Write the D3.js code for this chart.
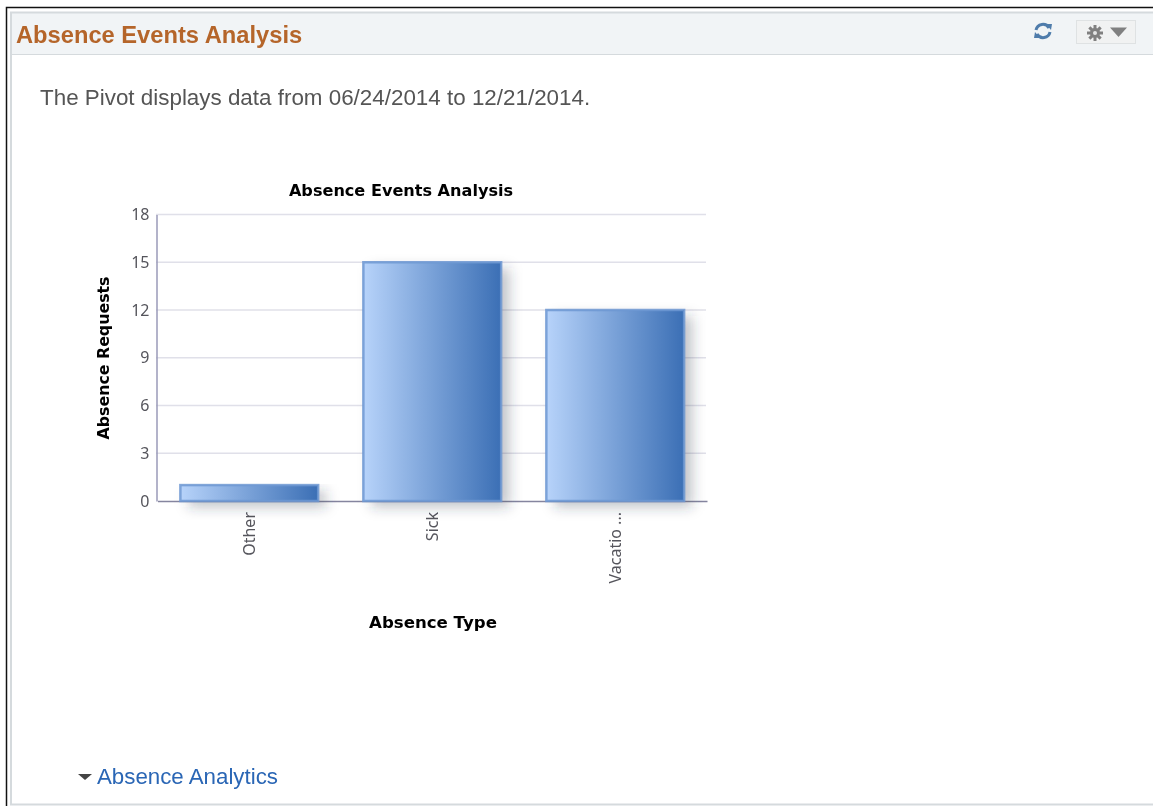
<!DOCTYPE html>
<html>
<head>
<meta charset="utf-8">
<script src="https://cdn.jsdelivr.net/npm/d3@7"></script>
<style>
  html, body { margin: 0; padding: 0; background: #fff; overflow: hidden; }
  svg { display: block; filter: blur(0.35px); }
</style>
</head>
<body>
<div id="chart"></div>
<script>
const categories = ['Other', 'Sick', 'Vacatio ...'];
const absenceRequests = [1, 15, 12];
const yTicks = [0, 3, 6, 9, 12, 15, 18];
const pageTitle = 'Absence Events Analysis';
const pivotNote = 'The Pivot displays data from 06/24/2014 to 12/21/2014.';
const chartTitle = 'Absence Events Analysis';
const yLabel = 'Absence Requests';
const xLabel = 'Absence Type';
const linkLabel = 'Absence Analytics';

const svg = d3.select('#chart').append('svg')
  .attr('width', 1153)
  .attr('height', 806);

const defs = svg.append('defs');

// bar fill, light on the left to dark on the right
const gradient = defs.append('linearGradient')
  .attr('id', 'barGradient')
  .attr('x1', '0%').attr('y1', '0%')
  .attr('x2', '100%').attr('y2', '0%');
gradient.append('stop').attr('offset', '0%').attr('stop-color', '#b7d3fa');
gradient.append('stop').attr('offset', '100%').attr('stop-color', '#3b6fb5');

const shadow = defs.append('filter')
  .attr('id', 'barShadow')
  .attr('x', '-20%').attr('y', '-40%')
  .attr('width', '140%').attr('height', '220%');
shadow.append('feGaussianBlur').attr('stdDeviation', 6.5);

// page frame
svg.append('path').attr('d', 'M1153,7.5H6.5V806').attr('fill', 'none').attr('stroke', '#111').attr('stroke-width', 1.5);
svg.append('rect').attr('x', 11).attr('y', 13).attr('width', 1142).attr('height', 41).attr('fill', '#f1f4f6');
svg.append('path').attr('d', 'M1153,12.5H11V804.5H1153').attr('fill', 'none').attr('stroke', '#d5dadd').attr('stroke-width', 2);
svg.append('line').attr('x1', 11).attr('x2', 1153).attr('y1', 54.5).attr('y2', 54.5).attr('stroke', '#d5dadd');

svg.append('text')
  .attr('x', 16).attr('y', 42.5)
  .attr('font-family', 'Liberation Sans')
  .attr('font-size', 23.7).attr('font-weight', 'bold')
  .attr('fill', '#b5652a')
  .text(pageTitle);

svg.append('text')
  .attr('x', 40).attr('y', 104.5)
  .attr('font-family', 'Liberation Sans')
  .attr('font-size', 22.4)
  .attr('fill', '#555')
  .text(pivotNote);

// refresh icon
const refresh = svg.append('g').attr('transform', 'translate(1043,31)').attr('fill', 'none').attr('stroke', '#4f7cab').attr('stroke-width', 3);
refresh.append('path').attr('d', 'M-7,-1A7,7 0 0 1 6,-3');
refresh.append('path').attr('d', 'M7,1A7,7 0 0 1 -6,3');
refresh.append('path').attr('d', 'M3,-7L9,-7L8,-1Z').attr('fill', '#4f7cab').attr('stroke', 'none');
refresh.append('path').attr('d', 'M-3,7L-9,7L-8,1Z').attr('fill', '#4f7cab').attr('stroke', 'none');

// settings button
svg.append('rect').attr('x', 1076.5).attr('y', 20.5).attr('width', 59).attr('height', 23).attr('fill', '#f1f2f2').attr('stroke', '#dfe2e3');
const gear = svg.append('g').attr('transform', 'translate(1095,33)');
gear.selectAll('line').data(d3.range(0, 180, 45)).enter().append('line')
  .attr('x1', -8).attr('x2', 8)
  .attr('transform', d => `rotate(${d})`)
  .attr('stroke', '#808080').attr('stroke-width', 3);
gear.append('circle').attr('r', 5).attr('fill', '#808080');
gear.append('circle').attr('r', 2).attr('fill', '#e4e5e5');
svg.append('path').attr('d', 'M1110,27.5H1127L1118.5,37Z').attr('fill', '#808080');

// chart
const x = d3.scaleBand().domain(categories).range([157.5, 707]).paddingInner(0.247).paddingOuter(0.125);
const y = d3.scaleLinear().domain([0, 18]).range([501, 214.5]);

svg.append('g')
  .selectAll('line')
  .data(yTicks.filter(d => d > 0))
  .enter().append('line')
  .attr('x1', 156).attr('x2', 706)
  .attr('y1', d => y(d)).attr('y2', d => y(d))
  .attr('stroke', '#e0e0e9').attr('stroke-width', 1.5);

const yAxis = svg.append('g')
  .attr('transform', 'translate(156.5,0)')
  .call(d3.axisLeft(y).tickValues(yTicks).tickSize(0).tickPadding(7));
yAxis.select('.domain').attr('stroke', '#9a9ab8').attr('stroke-width', 1.5);
yAxis.selectAll('text')
  .attr('font-family', 'Noto Sans')
  .attr('font-size', 16)
  .attr('fill', '#55555c');

const xBaseline = svg.append('g')
  .attr('transform', 'translate(0,501)')
  .call(d3.axisBottom(x).tickSize(0).tickPadding(0));
xBaseline.select('.domain').attr('stroke', '#85859f').attr('stroke-width', 1.5);
xBaseline.selectAll('text')
  .attr('transform', 'rotate(-90)')
  .attr('x', -11).attr('y', 0).attr('dy', '0.35em')
  .attr('text-anchor', 'end')
  .attr('font-family', 'Noto Sans')
  .attr('font-size', 16)
  .attr('fill', '#55555c');

svg.append('g')
  .selectAll('rect')
  .data(absenceRequests)
  .enter().append('rect')
  .attr('x', (d, i) => x(categories[i]) + 8)
  .attr('y', d => y(d) + 6)
  .attr('width', x.bandwidth())
  .attr('height', d => y(0) - y(d))
  .attr('fill', '#33364a')
  .attr('fill-opacity', 0.3)
  .attr('filter', 'url(#barShadow)');

svg.append('g')
  .selectAll('rect')
  .data(absenceRequests)
  .enter().append('rect')
  .attr('x', (d, i) => x(categories[i]))
  .attr('y', d => y(d))
  .attr('width', x.bandwidth())
  .attr('height', d => y(0) - y(d))
  .attr('fill', 'url(#barGradient)')
  .attr('stroke', '#6d98d2')
  .attr('stroke-opacity', 0.85)
  .attr('stroke-width', 2.5);

svg.append('text')
  .attr('x', 401).attr('y', 196)
  .attr('text-anchor', 'middle')
  .attr('font-family', 'DejaVu Sans')
  .attr('font-size', 16.1).attr('font-weight', 'bold')
  .attr('fill', '#000')
  .text(chartTitle);

svg.append('text')
  .attr('transform', 'translate(109,358) rotate(-90)')
  .attr('text-anchor', 'middle')
  .attr('font-family', 'DejaVu Sans')
  .attr('font-size', 15.8).attr('font-weight', 'bold')
  .attr('fill', '#000')
  .text(yLabel);

svg.append('text')
  .attr('x', 433).attr('y', 628)
  .attr('text-anchor', 'middle')
  .attr('font-family', 'DejaVu Sans')
  .attr('font-size', 16.6).attr('font-weight', 'bold')
  .attr('fill', '#000')
  .text(xLabel);

// collapsed section link
svg.append('path').attr('d', 'M78,774H92L85,780Z').attr('fill', '#444');
svg.append('text')
  .attr('x', 97).attr('y', 784)
  .attr('font-family', 'Liberation Sans')
  .attr('font-size', 22.3)
  .attr('fill', '#2a66b5')
  .text(linkLabel);
</script>
</body>
</html>
